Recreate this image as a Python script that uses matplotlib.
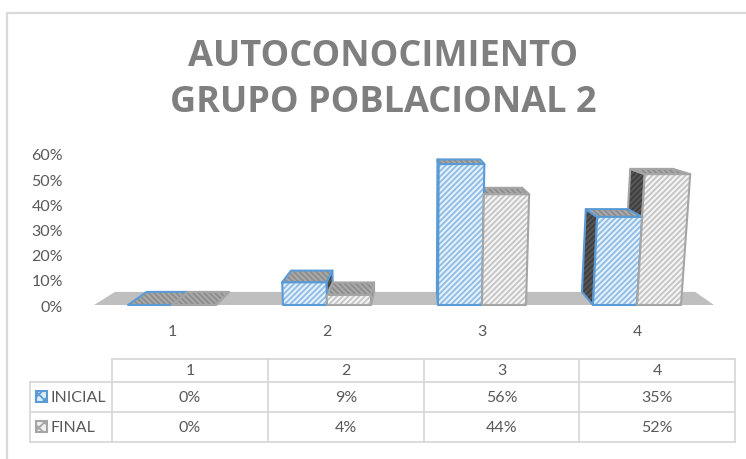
import matplotlib
matplotlib.use("Agg")
import matplotlib.pyplot as plt
from matplotlib.patches import Polygon

plt.rcParams['font.family'] = ['Lato', 'DejaVu Sans']
plt.rcParams['hatch.linewidth'] = 1.3

categories = [1, 2, 3, 4]
inicial = [0, 9, 56, 35]
final = [0, 4, 44, 52]
y_ticks = [0, 10, 20, 30, 40, 50, 60]
title_lines = ["AUTOCONOCIMIENTO", "GRUPO POBLACIONAL 2"]

BLUE = "#5b9bd5"
GREY = "#a5a5a5"
TEXT = "#595959"
LINE = "#d9d9d9"

W, H = 746, 460
fig = plt.figure(figsize=(W / 100, H / 100), dpi=100, facecolor="white")

# page layer in pixels, for the frame, title and table
page = fig.add_axes([0, 0, 1, 1])
page.set_xlim(0, W)
page.set_ylim(H, 0)
page.axis("off")

# plot area, 0% sits at y=306 and 60% at y=155
L, R, T, B = 70, 730, 155, 306
ax = fig.add_axes([L / W, 1 - B / H, (R - L) / W, (B - T) / H])
ax.set_facecolor("none")
px_per_cat = 155
ax.set_xlim(1 - (172 - L) / px_per_cat, 1 + (R - 172) / px_per_cat)
ax.set_ylim(0, 60)
for s in ax.spines.values():
    s.set_visible(False)
ax.set_yticks(y_ticks, [f"{t}%" for t in y_ticks])
ax.set_xticks(categories, [str(c) for c in categories])
ax.tick_params(axis="y", length=0, pad=5, labelsize=11.5, labelcolor=TEXT)
ax.tick_params(axis="x", length=0, pad=13.5, labelsize=11.5, labelcolor=TEXT)

# fake 3D: points get pulled to a vanishing point when they go back
vp = 1 + (420 - 172) / px_per_cat
depth_x = 0.064
depth_y = 5.2
lean = 0.00068
bar_w = 44 / px_per_cat


def proj(x, v, d):
    xp = x + (x - vp) * lean * v
    return xp - (xp - vp) * depth_x * d, v * (1 - 0.06 * d) + depth_y * d


def face(pts, fc, hc, ec, hatch, z):
    ax.add_patch(Polygon(pts, closed=True, facecolor=fc, edgecolor=hc, hatch=hatch,
                         lw=0, zorder=z, clip_on=False))
    ax.add_patch(Polygon(pts, closed=True, fill=False, edgecolor=ec, lw=1.5,
                         zorder=z, clip_on=False, joinstyle="round"))


def draw_back(x0, x1, v, ec, top_fc, top_hc, z):
    if x0 > vp:
        face([proj(x0, 0, 0), proj(x0, v, 0), proj(x0, v, 1), proj(x0, 0, 1)],
             "#404040", "#585858", ec, "//////", z)
    elif x1 < vp:
        face([proj(x1, 0, 0), proj(x1, v, 0), proj(x1, v, 1), proj(x1, 0, 1)],
             "#404040", "#585858", ec, "//////", z)
    face([proj(x0, v, 0), proj(x1, v, 0), proj(x1, v, 1), proj(x0, v, 1)],
         top_fc, top_hc, ec, "\\\\\\\\\\\\", z + 0.1)


def draw_front(x0, x1, v, fc, hc, ec, z):
    if v > 0:
        face([proj(x0, 0, 0), proj(x1, 0, 0), proj(x1, v, 0), proj(x0, v, 0)],
             fc, hc, ec, "//////", z)


# floor
xl = 1 + (94 - 172) / px_per_cat
xr = 1 + (714 - 172) / px_per_cat
ax.add_patch(Polygon([proj(xl, 0, 0), proj(xr, 0, 0), proj(xr, 0, 1), proj(xl, 0, 1)],
                     closed=True, facecolor="#bfbfbf", edgecolor="none", zorder=1, clip_on=False))

for i, c in enumerate(categories):
    a = (c - bar_w, c, inicial[i], BLUE, "#a9a9a9", "#8c8c8c")
    b = (c, c + bar_w, final[i], GREY, "#a9a9a9", "#8c8c8c")
    z = 2 + i
    # the bar nearer the vanishing point goes first
    order = [a, b] if c + bar_w < vp else [b, a]
    for n, args in enumerate(order):
        draw_back(*args, z + n * 0.2)
    draw_front(c - bar_w, c, inicial[i], "#e4f0fa", "#8dbce6", BLUE, z + 0.5)
    draw_front(c, c + bar_w, final[i], "#f4f4f4", "#c4c4c4", GREY, z + 0.6)

# only the top and left edges of the frame are in the picture
page.plot([W, 6.5, 6.5], [14, 14, H], color=LINE, lw=1.6)

# title
title_font = ['Open Sans', 'DejaVu Sans']
page.text(383, 57.5, title_lines[0], ha="center", va="center", fontsize=26,
          fontweight="bold", color="#7f7f7f", family=title_font)
page.text(383, 103, title_lines[1], ha="center", va="center", fontsize=26,
          fontweight="bold", color="#7f7f7f", family=title_font)

# table under the chart
col_x = [112, 268, 424, 579, 735]
row_y = [360, 383, 413, 443]
for x in col_x:
    page.plot([x, x], [row_y[0], row_y[-1]], color=LINE, lw=1.3)
page.plot([30, 30], [row_y[1], row_y[-1]], color=LINE, lw=1.3)
page.plot([col_x[0], col_x[-1]], [row_y[0], row_y[0]], color=LINE, lw=1.3)
for y in row_y[1:]:
    page.plot([30, col_x[-1]], [y, y], color=LINE, lw=1.3)

rows = [("INICIAL", inicial, BLUE, "#dcebf8"), ("FINAL", final, GREY, "#efefef")]
for i, c in enumerate(categories):
    page.text((col_x[i] + col_x[i + 1]) / 2, 371, str(c), ha="center", va="center",
              fontsize=11.5, color=TEXT)
for r, (name, vals, col, fill) in enumerate(rows):
    yc = (row_y[r + 1] + row_y[r + 2]) / 2
    page.add_patch(Polygon([(36, yc - 6), (47, yc - 6), (47, yc + 5), (36, yc + 5)], closed=True,
                           facecolor=fill, edgecolor=col, lw=1.5, hatch="xxx"))
    page.text(51, yc, name, ha="left", va="center", fontsize=11.5, color=TEXT)
    for i, v in enumerate(vals):
        page.text((col_x[i] + col_x[i + 1]) / 2, yc, f"{v}%", ha="center", va="center",
                  fontsize=11.5, color=TEXT)

fig.savefig("out.png", dpi=100, facecolor="white")
